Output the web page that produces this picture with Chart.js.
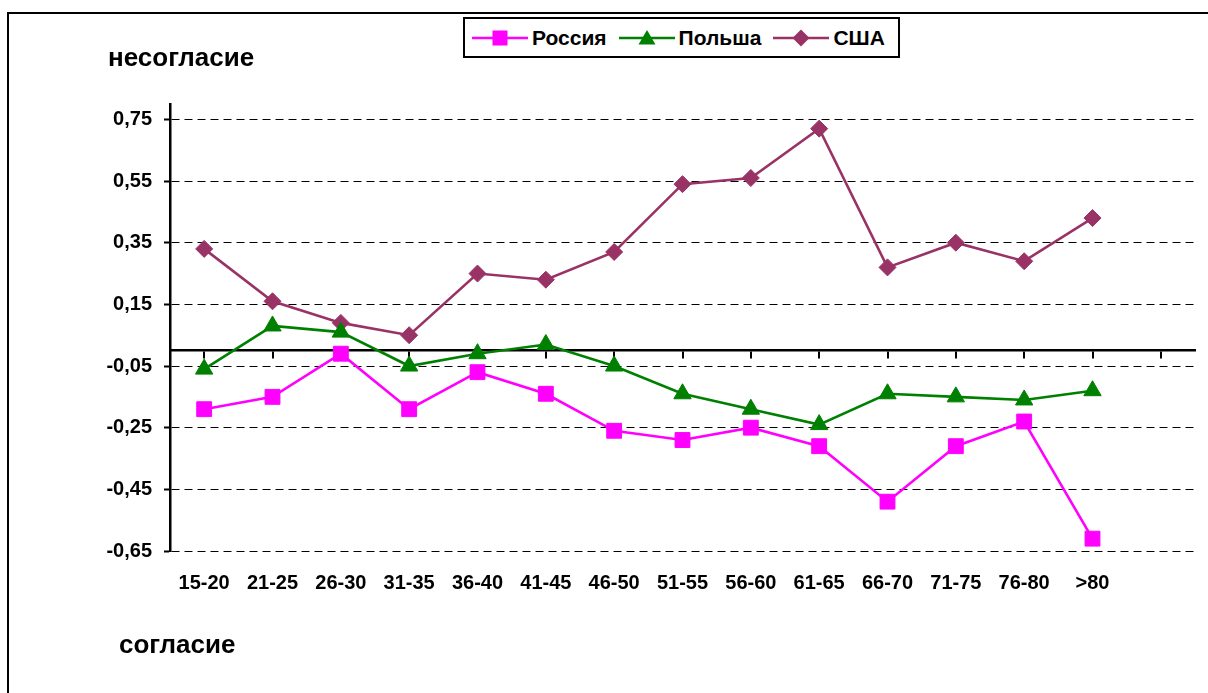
<!DOCTYPE html>
<html>
<head>
<meta charset="utf-8">
<script src="https://cdn.jsdelivr.net/npm/chart.js@4/dist/chart.umd.min.js"></script>
<style>
  html, body { margin: 0; padding: 0; width: 1208px; height: 693px; overflow: hidden; background: #fff;
    font-family: "Liberation Sans", Arial, sans-serif; }
  #frame { position: absolute; left: 7px; top: 12px; width: 1400px; height: 900px; border: 2px solid #000; }
  #wrap { position: absolute; left: 0; top: 0; width: 1208px; height: 693px; }
  .note { position: absolute; font-weight: bold; font-size: 26px; line-height: 26px; color: #000; white-space: nowrap; }
  #legend { position: absolute; left: 463px; top: 17px; width: 437px; height: 41px; border: 2px solid #000;
    background: #fff; display: flex; align-items: center; padding-left: 7px; box-sizing: border-box; }
  #legend .item { display: flex; align-items: center; margin-right: 12px; font-weight: bold; font-size: 21px; }
  #legend svg { margin-right: 4px; }
</style>
</head>
<body>
<div id="frame"></div>
<div id="wrap"><canvas id="chart" width="1208" height="693"></canvas></div>
<div class="note" style="left:108px; top:44px;">несогласие</div>
<div class="note" style="left:119px; top:631px;">согласие</div>
<div id="legend"></div>
<script>
const ageGroups = ["15-20", "21-25", "26-30", "31-35", "36-40", "41-45", "46-50",
  "51-55", "56-60", "61-65", "66-70", "71-75", "76-80", ">80", ""];
const russia = [-0.19, -0.15, -0.01, -0.19, -0.07, -0.14, -0.26, -0.29, -0.25, -0.31, -0.49, -0.31, -0.23, -0.61];
const poland = [-0.06, 0.08, 0.06, -0.05, -0.01, 0.02, -0.05, -0.14, -0.19, -0.24, -0.14, -0.15, -0.16, -0.13];
const usa = [0.33, 0.16, 0.09, 0.05, 0.25, 0.23, 0.32, 0.54, 0.56, 0.72, 0.27, 0.35, 0.29, 0.43];
const yTicks = [-0.65, -0.45, -0.25, -0.05, 0.15, 0.35, 0.55, 0.75];

const axisFont = { family: "'Liberation Sans', Arial, sans-serif", size: 20, weight: "bold" };

function series(label, data, color, style, radius) {
  return {
    label: label,
    data: data,
    borderColor: color,
    backgroundColor: color,
    borderWidth: 2.6,
    pointStyle: style,
    pointRadius: radius,
    pointHoverRadius: radius,
    pointBorderWidth: 1,
    pointBackgroundColor: color,
    pointBorderColor: color,
    tension: 0,
    xAxisID: "x",
    yAxisID: "y",
  };
}

let chart = new Chart(document.getElementById("chart"), {
  type: "line",
  data: {
    labels: ageGroups,
    datasets: [
      series("Россия", russia, "#FF00FF", "rect", 10.5),
      series("Польша", poland, "#008000", "triangle", 10),
      series("США", usa, "#993366", "rectRot", 8.5),
    ],
  },
  options: {
    responsive: false,
    animation: false,
    events: [],
    layout: { padding: { top: 104, right: 13, bottom: 0, left: 0 } },
    plugins: { legend: { display: false }, tooltip: { enabled: false } },
    scales: {
      x: {
        type: "category",
        position: "bottom",
        offset: true,
        grid: { display: false, drawTicks: false },
        border: { display: false },
        ticks: { font: axisFont, color: "#000", padding: 20, maxRotation: 0, autoSkip: false },
        afterFit: (s) => { s.height = 142; },
      },
      xz: {
        type: "category",
        axis: "x",
        position: { y: 0 },
        offset: true,
        grid: { drawOnChartArea: false, drawTicks: true, tickLength: 7, color: "#000", lineWidth: 2 },
        border: { display: true, color: "#000", width: 2.5 },
        ticks: { display: false },
      },
      y: {
        min: -0.65,
        max: 0.8,
        afterBuildTicks: (s) => { s.ticks = yTicks.map((v) => ({ value: v })); },
        afterFit: (s) => { s.width = 170; },
        grid: { color: "#000", lineWidth: 1, tickLength: 6, tickColor: "#000", tickWidth: 2 },
        border: { display: true, color: "#000", width: 2.5, dash: [8, 5] },
        ticks: {
          font: axisFont,
          color: "#000",
          padding: 12,
          callback: (v) => Number(v).toFixed(2).replace(".", ","),
        },
      },
    },
  },
});

// legend in the Excel style: line with the marker in its middle
function markerSvg(ds) {
  const c = ds.borderColor;
  let shape;
  if (ds.pointStyle === "rect") {
    shape = `<rect x="20.5" y="2.5" width="15" height="15" fill="${c}"/>`;
  } else if (ds.pointStyle === "triangle") {
    shape = `<polygon points="28,2 36.5,16.5 19.5,16.5" fill="${c}"/>`;
  } else {
    shape = `<polygon points="28,1.5 36.5,10 28,18.5 19.5,10" fill="${c}"/>`;
  }
  return `<svg width="56" height="20"><line x1="0" y1="10" x2="56" y2="10" stroke="${c}" stroke-width="2.5"/>${shape}</svg>`;
}

const legendBox = document.getElementById("legend");
chart.data.datasets.forEach((ds) => {
  const item = document.createElement("div");
  item.className = "item";
  item.innerHTML = markerSvg(ds) + "<span>" + ds.label + "</span>";
  legendBox.appendChild(item);
});
</script>
</body>
</html>
